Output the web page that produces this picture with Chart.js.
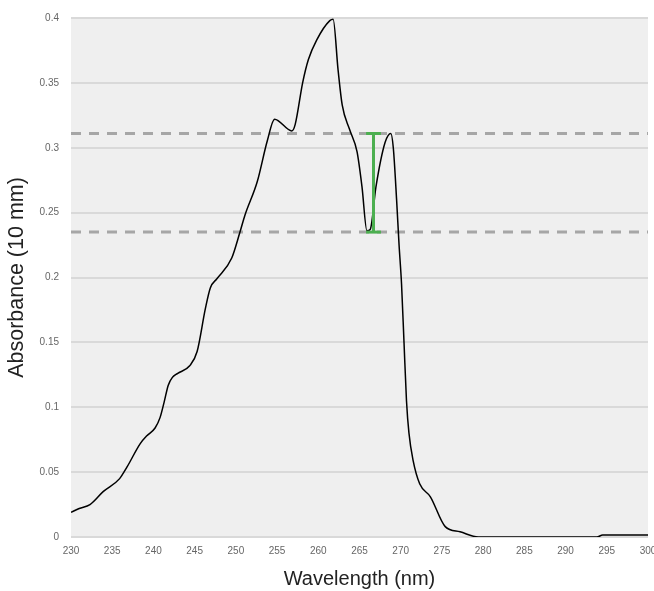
<!DOCTYPE html>
<html>
<head>
<meta charset="utf-8">
<script src="https://cdn.jsdelivr.net/npm/chart.js@4.4.1/dist/chart.umd.min.js"></script>
<style>
  html, body { margin: 0; padding: 0; background: #fff; }
  #wrap { width: 654px; height: 591px; }
</style>
</head>
<body>
<div id="wrap"><canvas id="spectrum" width="654" height="591"></canvas></div>
<script>
// absorbance spectrum
const wavelengths = [230, 231, 232.3, 233.9, 235.9, 236.8, 238.4, 239.2, 240.2, 240.8, 241.3, 241.8, 242.3, 242.9,
  244.4, 245.3, 246.3, 246.9, 247.7, 249.5, 250.5, 251.1, 252.6, 253.8, 254.7, 256.8, 257.2, 258.1, 258.8,
  259.8, 261.4, 261.8, 262.4, 262.9, 263.8, 264.7, 265.3, 265.9, 266.3, 267.0, 268.1, 268.8, 269.1, 269.5,
  269.8, 270.1, 270.4, 270.7, 271.0, 271.5, 272.3, 273.6, 275.4, 277.2, 279.4, 293.8, 294.5, 300];
const absorbance = [0.019, 0.022, 0.025, 0.035, 0.045, 0.054, 0.072, 0.078, 0.084, 0.092, 0.104, 0.117, 0.123, 0.126,
  0.132, 0.143, 0.176, 0.192, 0.199, 0.215, 0.235, 0.248, 0.274, 0.305, 0.322, 0.313, 0.318, 0.350, 0.368,
  0.383, 0.398, 0.399, 0.360, 0.333, 0.314, 0.297, 0.270, 0.236, 0.237, 0.270, 0.304, 0.311, 0.300, 0.260,
  0.225, 0.195, 0.150, 0.105, 0.080, 0.059, 0.041, 0.031, 0.008, 0.004, 0.000, 0.000, 0.0015, 0.0015];

// reference levels and the difference bar
const levels = [0.311, 0.235];
const barX = 266.7;
const capHalf = 0.9;

const xTicks = { min: 230, max: 300, step: 5 };
const yTicks = { min: 0, max: 0.4, step: 0.05 };

const curve = wavelengths.map((w, i) => ({ x: w, y: absorbance[i] }));

const dashed = levels.map(v => ({
  data: [{ x: xTicks.min, y: v }, { x: xTicks.max, y: v }],
  borderColor: '#a6a6a6',
  borderWidth: 3,
  borderDash: [10, 8],
  pointRadius: 0,
  fill: false,
  order: 3
}));

const green = '#4caf50';
const bar = [
  [{ x: barX, y: levels[1] }, { x: barX, y: levels[0] }],
  [{ x: barX - capHalf, y: levels[0] }, { x: barX + capHalf, y: levels[0] }],
  [{ x: barX - capHalf, y: levels[1] }, { x: barX + capHalf, y: levels[1] }]
].map(d => ({ data: d, borderColor: green, borderWidth: 3, pointRadius: 0, fill: false, order: 1 }));

const plotBg = {
  id: 'plotBg',
  beforeDraw(chart) {
    const { ctx, chartArea: a } = chart;
    ctx.save();
    ctx.fillStyle = '#efefef';
    ctx.fillRect(a.left, a.top, a.right - a.left, a.bottom - a.top);
    ctx.restore();
  }
};

new Chart(document.getElementById('spectrum').getContext('2d'), {
  type: 'line',
  data: {
    datasets: [
      ...dashed,
      {
        data: curve,
        borderColor: '#000',
        borderWidth: 1.5,
        pointRadius: 0,
        fill: false,
        cubicInterpolationMode: 'monotone',
        order: 2
      },
      ...bar
    ]
  },
  options: {
    responsive: false,
    animation: false,
    events: [],
    layout: { padding: { left: 0, right: 6, top: 13, bottom: 0 } },
    plugins: { legend: { display: false }, tooltip: { enabled: false } },
    scales: {
      x: {
        type: 'linear',
        min: xTicks.min,
        max: xTicks.max,
        afterFit(s) { s.height = 54; s.paddingLeft = 0; s.paddingRight = 0; },
        grid: { display: false, drawTicks: false },
        border: { display: false },
        ticks: {
          stepSize: xTicks.step,
          padding: 8,
          color: '#666',
          font: { family: 'Liberation Sans, Arial', size: 10 },
          maxRotation: 0
        },
        title: {
          display: true,
          text: 'Wavelength (nm)',
          color: '#222',
          font: { family: 'Liberation Sans, Arial', size: 20 },
          padding: { top: 14, bottom: 0 }
        }
      },
      y: {
        min: yTicks.min,
        max: yTicks.max,
        afterFit(s) { s.width = 71; },
        grid: { color: '#d9d9d9', lineWidth: 2, drawTicks: false },
        border: { display: false },
        ticks: {
          stepSize: yTicks.step,
          padding: 12,
          color: '#666',
          font: { family: 'Liberation Sans, Arial', size: 10 },
          callback: v => String(+v.toFixed(2))
        },
        title: {
          display: true,
          text: 'Absorbance (10 mm)',
          color: '#222',
          font: { family: 'Liberation Sans, Arial', size: 21.5 },
          padding: { top: 4, bottom: 4 }
        }
      }
    }
  },
  plugins: [plotBg]
});
</script>
</body>
</html>
